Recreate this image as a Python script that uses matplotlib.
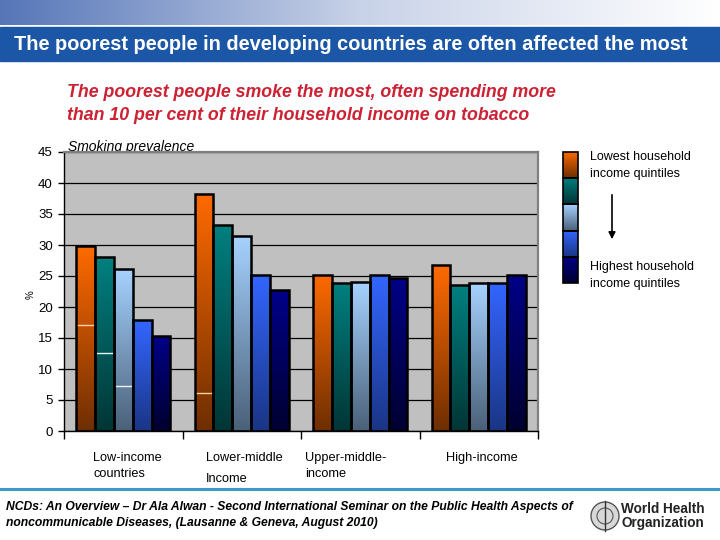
import numpy as np
import matplotlib
matplotlib.use("Agg")
import matplotlib.pyplot as plt
import matplotlib.transforms as mtransforms
from matplotlib.colors import LinearSegmentedColormap
from matplotlib.patches import Rectangle, Circle

plt.rcParams['font.family'] = ['Liberation Sans', 'DejaVu Sans']

# data
groups = ["Low-income\ncountries", "Lower-middle\nIncome", "Upper-middle-\nincome", "High-income"]
quintiles = ["Q1 (lowest)", "Q2", "Q3", "Q4", "Q5 (highest)"]
prevalence = [
    [29.8, 28.0, 26.1, 17.9, 15.4],   # low-income
    [38.3, 33.3, 31.4, 25.2, 22.7],   # lower-middle
    [25.2, 23.9, 24.0, 25.2, 24.7],   # upper-middle
    [26.7, 23.5, 23.8, 23.8, 25.2],   # high-income
]
# thin light marks inside some bars
mark_group = [0, 0, 0, 1]
mark_quintile = [0, 1, 2, 0]
mark_value = [17.1, 12.6, 7.2, 6.2]

yticks = [0, 5, 10, 15, 20, 25, 30, 35, 40, 45]

# (top colour, bottom colour) per quintile
shades = [("#FF6A00", "#6E2E00"),
          ("#008080", "#003535"),
          ("#A6D2FF", "#4A6078"),
          ("#3366FF", "#1A3585"),
          ("#000088", "#000030")]


def grad_fill(ax, x0, x1, ybot, ytop, top, bottom, clip=None, z=2):
    cmap = LinearSegmentedColormap.from_list("g", [bottom, top])
    im = ax.imshow(np.linspace(0, 1, 256).reshape(-1, 1), cmap=cmap,
                   extent=(x0, x1, ybot, ytop), origin='lower',
                   aspect='auto', zorder=z, interpolation='bilinear')
    if clip is not None:
        im.set_clip_path(clip)
    return im


fig = plt.figure(figsize=(7.2, 5.4), dpi=100)

# background layer in pixel coordinates
bg = fig.add_axes([0, 0, 1, 1])
bg.axis('off')
hcmap = LinearSegmentedColormap.from_list("h", ["#5676B8", "#C8D2E8", "#FFFFFF"])
bg.imshow(np.linspace(0, 1, 256).reshape(1, -1), cmap=hcmap,
          extent=(0, 720, 25, 0), aspect='auto', zorder=0)
bg.add_patch(Rectangle((0, 27), 720, 34, color="#1B57A6", zorder=1))
bg.text(14, 44, "The poorest people in developing countries are often affected the most",
        color="white", fontsize=14.4, fontweight='bold', va='center', zorder=2)

bg.text(67, 104, "The poorest people smoke the most, often spending more\n"
        "than 10 per cent of their household income on tobacco",
        color="#CC2233", fontsize=12.8, fontweight='bold', style='italic',
        va='center', linespacing=1.4)

# legend colour stack
for i, (top, bottom) in enumerate(shades):
    y0 = 152 + i * 26.2
    r = Rectangle((563, y0), 15, 26.2, facecolor='none', edgecolor='black', lw=1.2, zorder=4)
    bg.add_patch(r)
    grad_fill(bg, 563, 578, y0 + 26.2, y0, top, bottom, clip=r, z=3)
bg.text(590, 151, "Lowest household\nincome quintiles", fontsize=9, va='top', linespacing=1.5)
bg.text(590, 261, "Highest household\nincome quintiles", fontsize=9, va='top', linespacing=1.5)
bg.annotate("", xy=(612, 242), xytext=(612, 192),
            arrowprops=dict(arrowstyle='-|>', color='black', lw=1.2, mutation_scale=10))

bg.text(68, 147, "Smoking prevalence", fontsize=10, style='italic', va='center')
bg.text(31, 295, "%", fontsize=7, rotation=90, va='center', ha='center')

# category labels
label_x = [93, 206, 305, 446]
for lx, g in zip(label_x, groups):
    ls = 2.0 if g.startswith("Lower") else 1.4
    bg.text(lx, 452, g, fontsize=9.2, va='top', linespacing=ls)

# footer
bg.plot([0, 720], [489, 489], color="#3A9BC8", lw=2.2, zorder=1)
bg.text(6, 515, "NCDs: An Overview \u2013 Dr Ala Alwan - Second International Seminar on the Public Health Aspects of\n"
        "noncommunicable Diseases, (Lausanne & Geneva, August 2010)",
        fontsize=8.7, fontweight='bold', style='italic', va='center', linespacing=1.4)
bg.add_patch(Circle((605, 516), 14, facecolor='#D8D8D8', edgecolor='#555555', lw=1.0, zorder=2))
bg.add_patch(Circle((605, 516), 8, facecolor='none', edgecolor='#555555', lw=0.8, zorder=2))
bg.plot([605, 605], [501, 531], color='#333333', lw=1.0, zorder=3)
bg.text(621, 516, "World Health\nOrganization", fontsize=9.8, fontweight='bold',
        va='center', linespacing=1.0, color='#222222')
bg.set_xlim(0, 720)
bg.set_ylim(540, 0)

# chart
ax = fig.add_axes([64 / 720, 1 - 431 / 540, 474 / 720, 279 / 540])
ax.set_facecolor("#C0C0C0")
bw = 0.159
x = np.arange(len(groups))
bars = {}
for q in range(len(quintiles)):
    vals = [row[q] for row in prevalence]
    pos = x + (q - 2) * bw
    rects = ax.bar(pos, vals, width=bw, facecolor='none', edgecolor='black',
                   linewidth=1.8, zorder=3)
    top, bottom = shades[q]
    for g, r in enumerate(rects):
        grad_fill(ax, r.get_x(), r.get_x() + r.get_width(), 0, r.get_height(),
                  top, bottom, clip=r, z=2.5)
        bars[(g, q)] = r

for g, q, v in zip(mark_group, mark_quintile, mark_value):
    r = bars[(g, q)]
    col = "#FFD2A8" if q == 0 else "#E8F4F4"
    ax.plot([r.get_x() + 0.01, r.get_x() + r.get_width() - 0.01], [v, v],
            color=col, lw=1.0, zorder=2.8)

ax.set_xlim(-0.5, 3.5)
ax.set_ylim(0, 45)
ax.set_yticks(yticks)
ax.set_yticklabels([str(t) for t in yticks], fontsize=9.5)
shift = mtransforms.ScaledTranslation(0, 4 / 72, fig.dpi_scale_trans)
for lab in ax.get_yticklabels():
    lab.set_transform(lab.get_transform() + shift)
ax.set_xticks(np.arange(-0.5, 4.0, 1.0))
ax.set_xticklabels([])
ax.tick_params(axis='x', length=6, width=1, direction='out')
ax.tick_params(axis='y', length=4, width=1, direction='out', pad=4)
ax.grid(axis='y', color='black', lw=0.9)
ax.set_axisbelow(True)
for s in ['left', 'bottom']:
    ax.spines[s].set_color('black')
    ax.spines[s].set_linewidth(1.0)
for s in ['top', 'right']:
    ax.spines[s].set_color('#808080')
    ax.spines[s].set_linewidth(1.6)

fig.savefig("out.png", dpi=100)
